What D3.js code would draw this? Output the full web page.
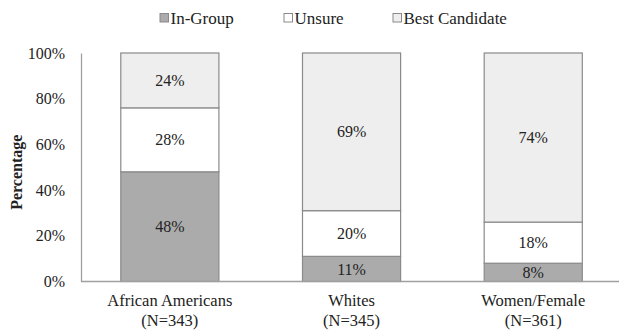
<!DOCTYPE html>
<html>
<head>
<meta charset="utf-8">
<script src="https://cdn.jsdelivr.net/npm/d3@7"></script>
<style>
  html, body { margin: 0; padding: 0; background: #fff; }
  text { font-family: "Liberation Serif", "Times New Roman", serif; }
</style>
</head>
<body>
<svg id="chart" width="619" height="330"></svg>
<script>
// Survey groups (two-line axis labels)
const groups = ["African Americans", "Whites", "Women/Female"];
const groupNs = ["(N=343)", "(N=345)", "(N=361)"];

// Response categories, stacked bottom to top
const seriesNames = ["In-Group", "Unsure", "Best Candidate"];
const inGroup = [48, 11, 8];
const unsure = [28, 20, 18];
const bestCandidate = [24, 69, 74];

const yTicks = [0, 20, 40, 60, 80, 100];
const fills = ["#ababab", "#ffffff", "#eeeeee"];
const FONT = "'Liberation Serif', 'Times New Roman', serif";

const svg = d3.select("#chart").attr("font-family", FONT);
const margin = { left: 81, top: 53 };
const W = 619;
const plotBottom = 281.5;

const x = d3.scaleBand()
  .domain(groups)
  .range([margin.left - 2, margin.left - 2 + 3 * 181.7])
  .paddingInner(0.46)
  .paddingOuter(0.23);

const y = d3.scaleLinear().domain([0, 100]).range([plotBottom, margin.top]);

const rows = groups.map((g, i) => ({
  group: g,
  "In-Group": inGroup[i],
  "Unsure": unsure[i],
  "Best Candidate": bestCandidate[i]
}));
const stacked = d3.stack().keys(seriesNames)(rows);

// y axis
const yAxis = d3.axisLeft(y)
  .tickValues(yTicks)
  .tickFormat(d => d + "%")
  .tickSize(0)
  .tickPadding(16);
const gy = svg.append("g").attr("transform", `translate(${margin.left},0)`).call(yAxis)
  .attr("font-family", FONT);
gy.select(".domain").attr("stroke", "#a0a0a0").attr("stroke-width", 1.3);
gy.selectAll("text")
  .attr("font-family", FONT)
  .attr("font-size", 16)
  .attr("fill", "#222");

// bars
const layers = svg.append("g").selectAll("g")
  .data(stacked)
  .join("g")
  .attr("fill", (d, i) => fills[i]);

layers.selectAll("rect")
  .data(d => d)
  .join("rect")
  .attr("x", d => x(d.data.group))
  .attr("width", x.bandwidth())
  .attr("y", d => y(d[1]))
  .attr("height", d => y(d[0]) - y(d[1]))
  .attr("stroke", "#8a8a8a")
  .attr("stroke-width", 1.2);

// value labels centred in each segment
layers.selectAll("text")
  .data(d => d.map(v => ({ v, val: v[1] - v[0] })))
  .join("text")
  .attr("x", d => x(d.v.data.group) + x.bandwidth() / 2)
  .attr("y", d => y((d.v[0] + d.v[1]) / 2))
  .attr("dy", "0.35em")
  .attr("text-anchor", "middle")
  .attr("font-family", FONT)
  .attr("font-size", 16)
  .attr("fill", "#222")
  .text(d => d.val + "%");

// x axis baseline
const xAxis = d3.axisBottom(x).tickSize(0).tickFormat("");
const gx = svg.append("g").attr("transform", `translate(0,${plotBottom})`).call(xAxis);
gx.select(".domain").attr("d", `M${margin.left},0H${W}`).attr("stroke", "#a0a0a0").attr("stroke-width", 1.3);

// category labels
const catLabels = svg.append("g").selectAll("text")
  .data(groups)
  .join("text")
  .attr("text-anchor", "middle")
  .attr("font-family", FONT)
  .attr("font-size", 16.5)
  .attr("fill", "#222")
  .attr("x", d => x(d) + x.bandwidth() / 2)
  .attr("y", 306);
catLabels.append("tspan").text(d => d);
catLabels.append("tspan")
  .attr("x", d => x(d) + x.bandwidth() / 2)
  .attr("dy", 20)
  .text((d, i) => groupNs[i]);

// y axis title
svg.append("text")
  .attr("transform", `translate(22,${(margin.top + plotBottom) / 2 + 5}) rotate(-90)`)
  .attr("text-anchor", "middle")
  .attr("font-family", FONT)
  .attr("font-size", 16)
  .attr("font-weight", "bold")
  .attr("fill", "#222")
  .text("Percentage");

// legend
const legendX = [160, 284, 393];
const legend = svg.append("g").selectAll("g")
  .data(seriesNames)
  .join("g")
  .attr("transform", (d, i) => `translate(${legendX[i]},13.5)`);
legend.append("rect")
  .attr("width", 8.5).attr("height", 8.5)
  .attr("fill", (d, i) => fills[i])
  .attr("stroke", "#8a8a8a")
  .attr("stroke-width", 1);
legend.append("text")
  .attr("x", 10.5)
  .attr("y", 4.5)
  .attr("dy", "0.35em")
  .attr("font-family", FONT)
  .attr("font-size", 17)
  .attr("fill", "#222")
  .text(d => d);
</script>
</body>
</html>
